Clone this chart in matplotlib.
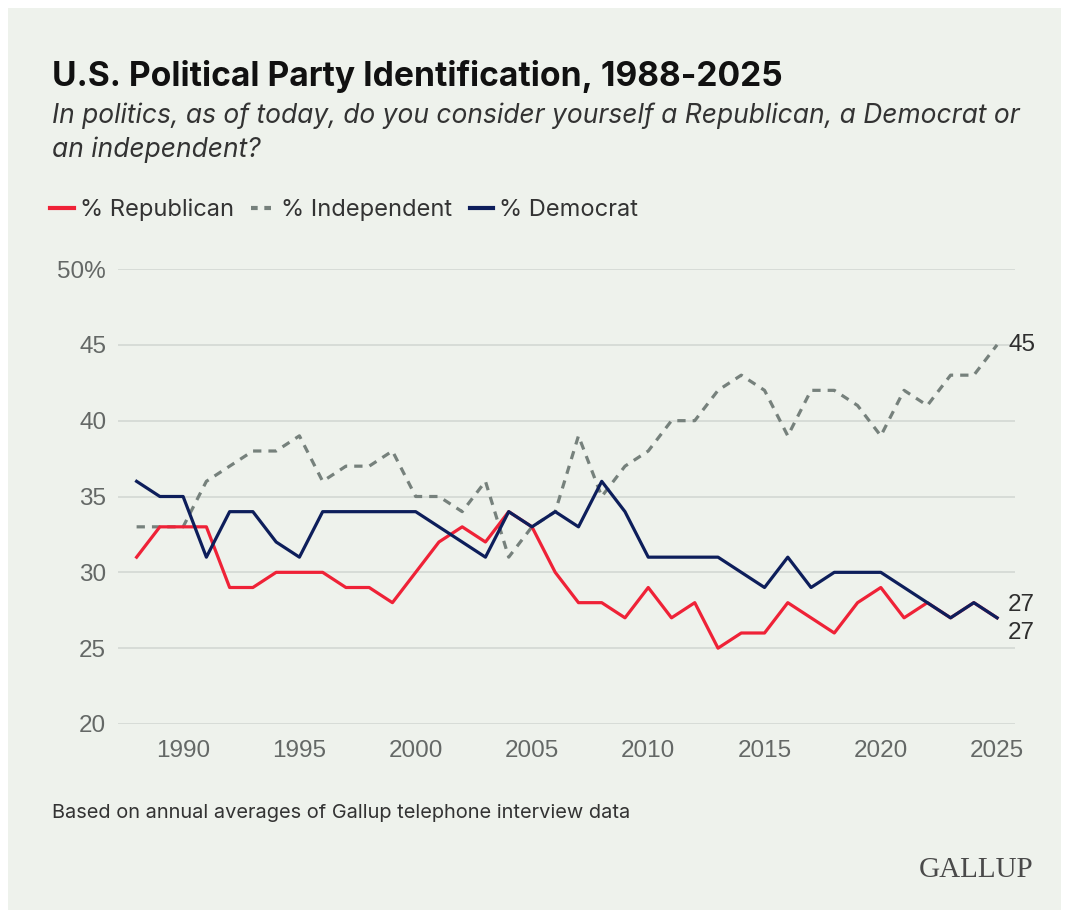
import matplotlib
matplotlib.use("Agg")
import matplotlib.pyplot as plt
from matplotlib.lines import Line2D
from matplotlib.patches import Rectangle

years = list(range(1988, 2026))
republican = [31, 33, 33, 33, 29, 29, 30, 30, 30, 29, 29, 28, 30, 32, 33, 32, 34, 33, 30, 28,
              28, 27, 29, 27, 28, 25, 26, 26, 28, 27, 26, 28, 29, 27, 28, 27, 28, 27]
independent = [33, 33, 33, 36, 37, 38, 38, 39, 36, 37, 37, 38, 35, 35, 34, 36, 31, 33, 34, 39,
               35, 37, 38, 40, 40, 42, 43, 42, 39, 42, 42, 41, 39, 42, 41, 43, 43, 45]
democrat = [36, 35, 35, 31, 34, 34, 32, 31, 34, 34, 34, 34, 34, 33, 32, 31, 34, 33, 34, 33,
            36, 34, 31, 31, 31, 31, 30, 29, 31, 29, 30, 30, 30, 29, 28, 27, 28, 27]
x_ticks = [1990, 1995, 2000, 2005, 2010, 2015, 2020, 2025]
y_ticks = [20, 25, 30, 35, 40, 45, 50]
y_labels = ["20", "25", "30", "35", "40", "45", "50%"]

RED = "#ef2237"
NAVY = "#0d1e5b"
GREY = "#76817c"
BG = "#eef2ec"

plt.rcParams['font.family'] = ['Inter', 'DejaVu Sans']
TICKFONT = ["Liberation Sans", "DejaVu Sans"]

W, H = 1069, 918
fig = plt.figure(figsize=(W / 100, H / 100), dpi=100)
fig.patch.set_facecolor("white")
fig.patches.append(Rectangle((8 / W, 8 / H), 1 - 16 / W, 1 - 16 / H, transform=fig.transFigure,
                             facecolor=BG, edgecolor="none", zorder=-10))

def fx(px):
    return px / W

def fy(py):
    return 1 - py / H

ax = fig.add_axes([fx(118), fy(724), fx(1015) - fx(118), (724 - 269) / H])
ax.set_facecolor("none")
ax.plot(years, independent, color=GREY, lw=2.3, dashes=(2.6, 2.2), zorder=3,
        dash_capstyle="butt")
ax.plot(years, republican, color=RED, lw=2.3, zorder=4)
ax.plot(years, democrat, color=NAVY, lw=2.3, zorder=5)

ax.set_xlim(1987.2, 2025.77)
ax.set_ylim(20, 50)
ax.set_yticks(y_ticks)
ax.set_yticklabels(y_labels)
ax.set_xticks(x_ticks)
ax.grid(axis="y", color="#d3d8d3", lw=1.2)
ax.grid(axis="x", visible=False)
for s in ax.spines.values():
    s.set_visible(False)
ax.tick_params(axis="both", length=0, labelsize=17.5, labelcolor="#646866")
ax.tick_params(axis="y", pad=8.5)
ax.tick_params(axis="x", pad=11.5)
for lab in ax.get_yticklabels() + ax.get_xticklabels():
    lab.set_family(TICKFONT)
for lab in ax.get_yticklabels():
    lab.set_horizontalalignment("right")

# end labels
ax.annotate(f"{independent[-1]}", (years[-1], independent[-1]), xytext=(8, 0),
            textcoords="offset points", va="center", ha="left", fontsize=17.5,
            color="#2e2e2e", family=TICKFONT)
ax.annotate(f"{democrat[-1]}", (years[-1], democrat[-1]), xytext=(8, 9.5),
            textcoords="offset points", va="center", ha="left", fontsize=17.5,
            color="#2e2e2e", family=TICKFONT)
ax.annotate(f"{republican[-1]}", (years[-1], republican[-1]), xytext=(8, -11),
            textcoords="offset points", va="center", ha="left", fontsize=17.5,
            color="#2e2e2e", family=TICKFONT)

# title/subtitle
fig.text(fx(52), fy(86), "U.S. Political Party Identification, 1988-2025", fontsize=24.2,
         fontweight="bold", color="#111111", va="baseline", ha="left")
fig.text(fx(52), fy(123), "In politics, as of today, do you consider yourself a Republican, a Democrat or",
         fontsize=19, style="italic", color="#333333", va="baseline", ha="left")
fig.text(fx(52), fy(157), "an independent?",
         fontsize=19, style="italic", color="#333333", va="baseline", ha="left")

# legend
handles = [Line2D([], [], color=RED, lw=3),
           Line2D([], [], color=GREY, lw=3, dashes=(1.6, 1.6)),
           Line2D([], [], color=NAVY, lw=3)]
labels = ["% Republican", "% Independent", "% Democrat"]
fig.legend(handles, labels, loc="center left", bbox_to_anchor=(fx(50), fy(210)), ncol=3,
           frameon=False, fontsize=17, handlelength=1.0, handletextpad=0.25,
           columnspacing=0.75, labelcolor="#333333", borderaxespad=0, borderpad=0)

fig.text(fx(52), fy(818), "Based on annual averages of Gallup telephone interview data",
         fontsize=14.4, color="#333333", va="baseline", ha="left")
fig.text(fx(1033), fy(877), "GALLUP", family=["Liberation Serif", "DejaVu Serif"], fontsize=21,
         color="#4a4a4a", va="baseline", ha="right")

fig.savefig("out.png", dpi=100, facecolor=fig.get_facecolor())
